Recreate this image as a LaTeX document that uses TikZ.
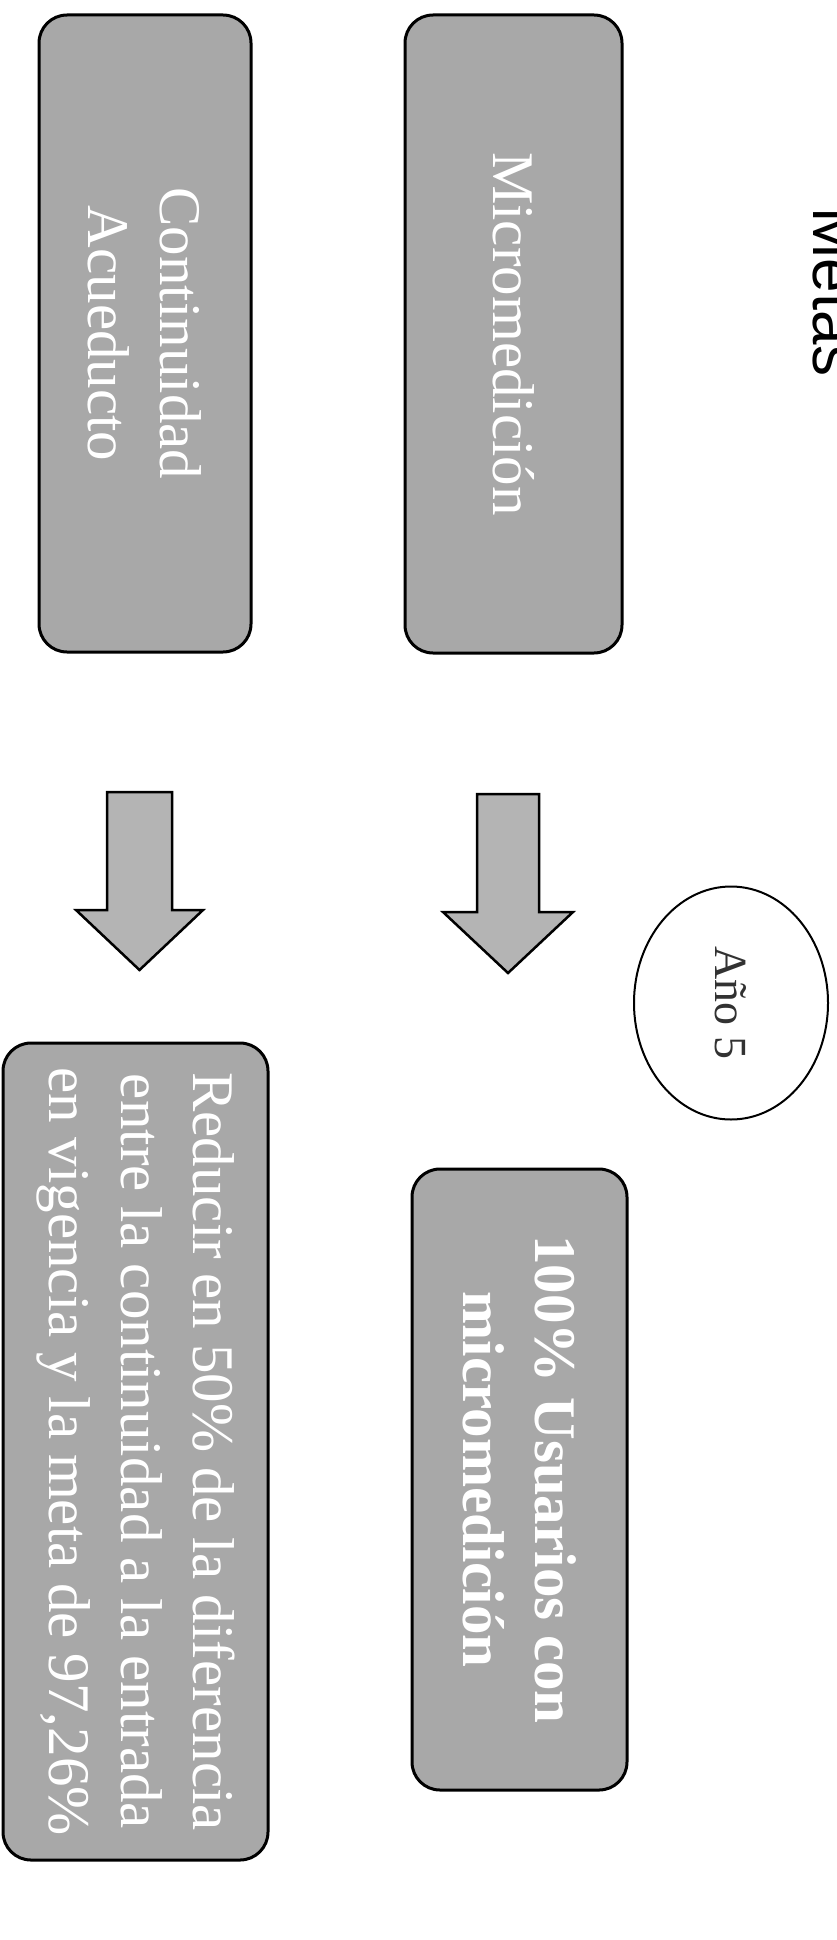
\documentclass[tikz,border=0pt]{standalone}
\usepackage{fontspec}
\setmainfont{Liberation Serif}
\newfontfamily\sansf{Liberation Sans}
\usetikzlibrary{shapes.geometric}
\definecolor{boxgray}{RGB}{168,168,168}
\definecolor{arrowgray}{RGB}{180,180,180}
\definecolor{inkgray}{RGB}{50,50,50}
\begin{document}
\begin{tikzpicture}[x=1pt,y=-1pt,
  box/.style={draw=black, line width=3pt, fill=boxgray, rounded corners=28pt,
    rotate=-90, text=white, align=center, inner sep=0pt,
    font=\fontsize{59}{72}\selectfont},
  blockarrow/.style={draw=black, line width=2.5pt, fill=arrowgray, line join=miter},
  yearnode/.style={ellipse, draw=black, line width=2pt, fill=white, rotate=-90,
    inner sep=0pt, text=inkgray, font=\fontsize{46}{50}\selectfont},
]
\useasboundingbox (0,0) rectangle (837,1940);

% title (partly outside the page, as in the reference)
\node[rotate=-90, anchor=base west, inner sep=0pt,
      font=\sansf\fontsize{62}{62}\selectfont] (metas) at (813,207) {Metas};

% top boxes
\node[box, minimum width=638pt, minimum height=217pt] (micro) at (513.5,334) {Micromedición};
\node[box, minimum width=637pt, minimum height=212pt] (conti) at (145,333.5) {Continuidad\\Acueducto};

% block arrows
\coordinate (arrR) at (508,794);
\coordinate (arrL) at (139.5,792);
\draw[blockarrow] (arrR) ++(-31,0) -- ++(0,118) -- ++(-34,0) -- ++(65,61) -- ++(65,-61)
   -- ++(-34,0) -- ++(0,-118) -- cycle;
\draw[blockarrow] (arrL) ++(-32.5,0) -- ++(0,118) -- ++(-31,0) -- ++(63.5,60) -- ++(63.5,-60)
   -- ++(-31,0) -- ++(0,-118) -- cycle;

% year
\node[yearnode, minimum width=233pt, minimum height=194pt] (year) at (731,1003) {Año 5};

% bottom boxes
\node[box, minimum width=621pt, minimum height=215pt] (usuarios) at (519.5,1479.5)
  {\textbf{100\% Usuarios con}\\\textbf{micromedición}};
\node[box, minimum width=817pt, minimum height=265pt] (reducir) at (135.5,1451.5)
  {Reducir en 50\% de la diferencia\\entre la continuidad a la entrada\\en vigencia y la meta de 97,26\%};
\end{tikzpicture}
\end{document}
